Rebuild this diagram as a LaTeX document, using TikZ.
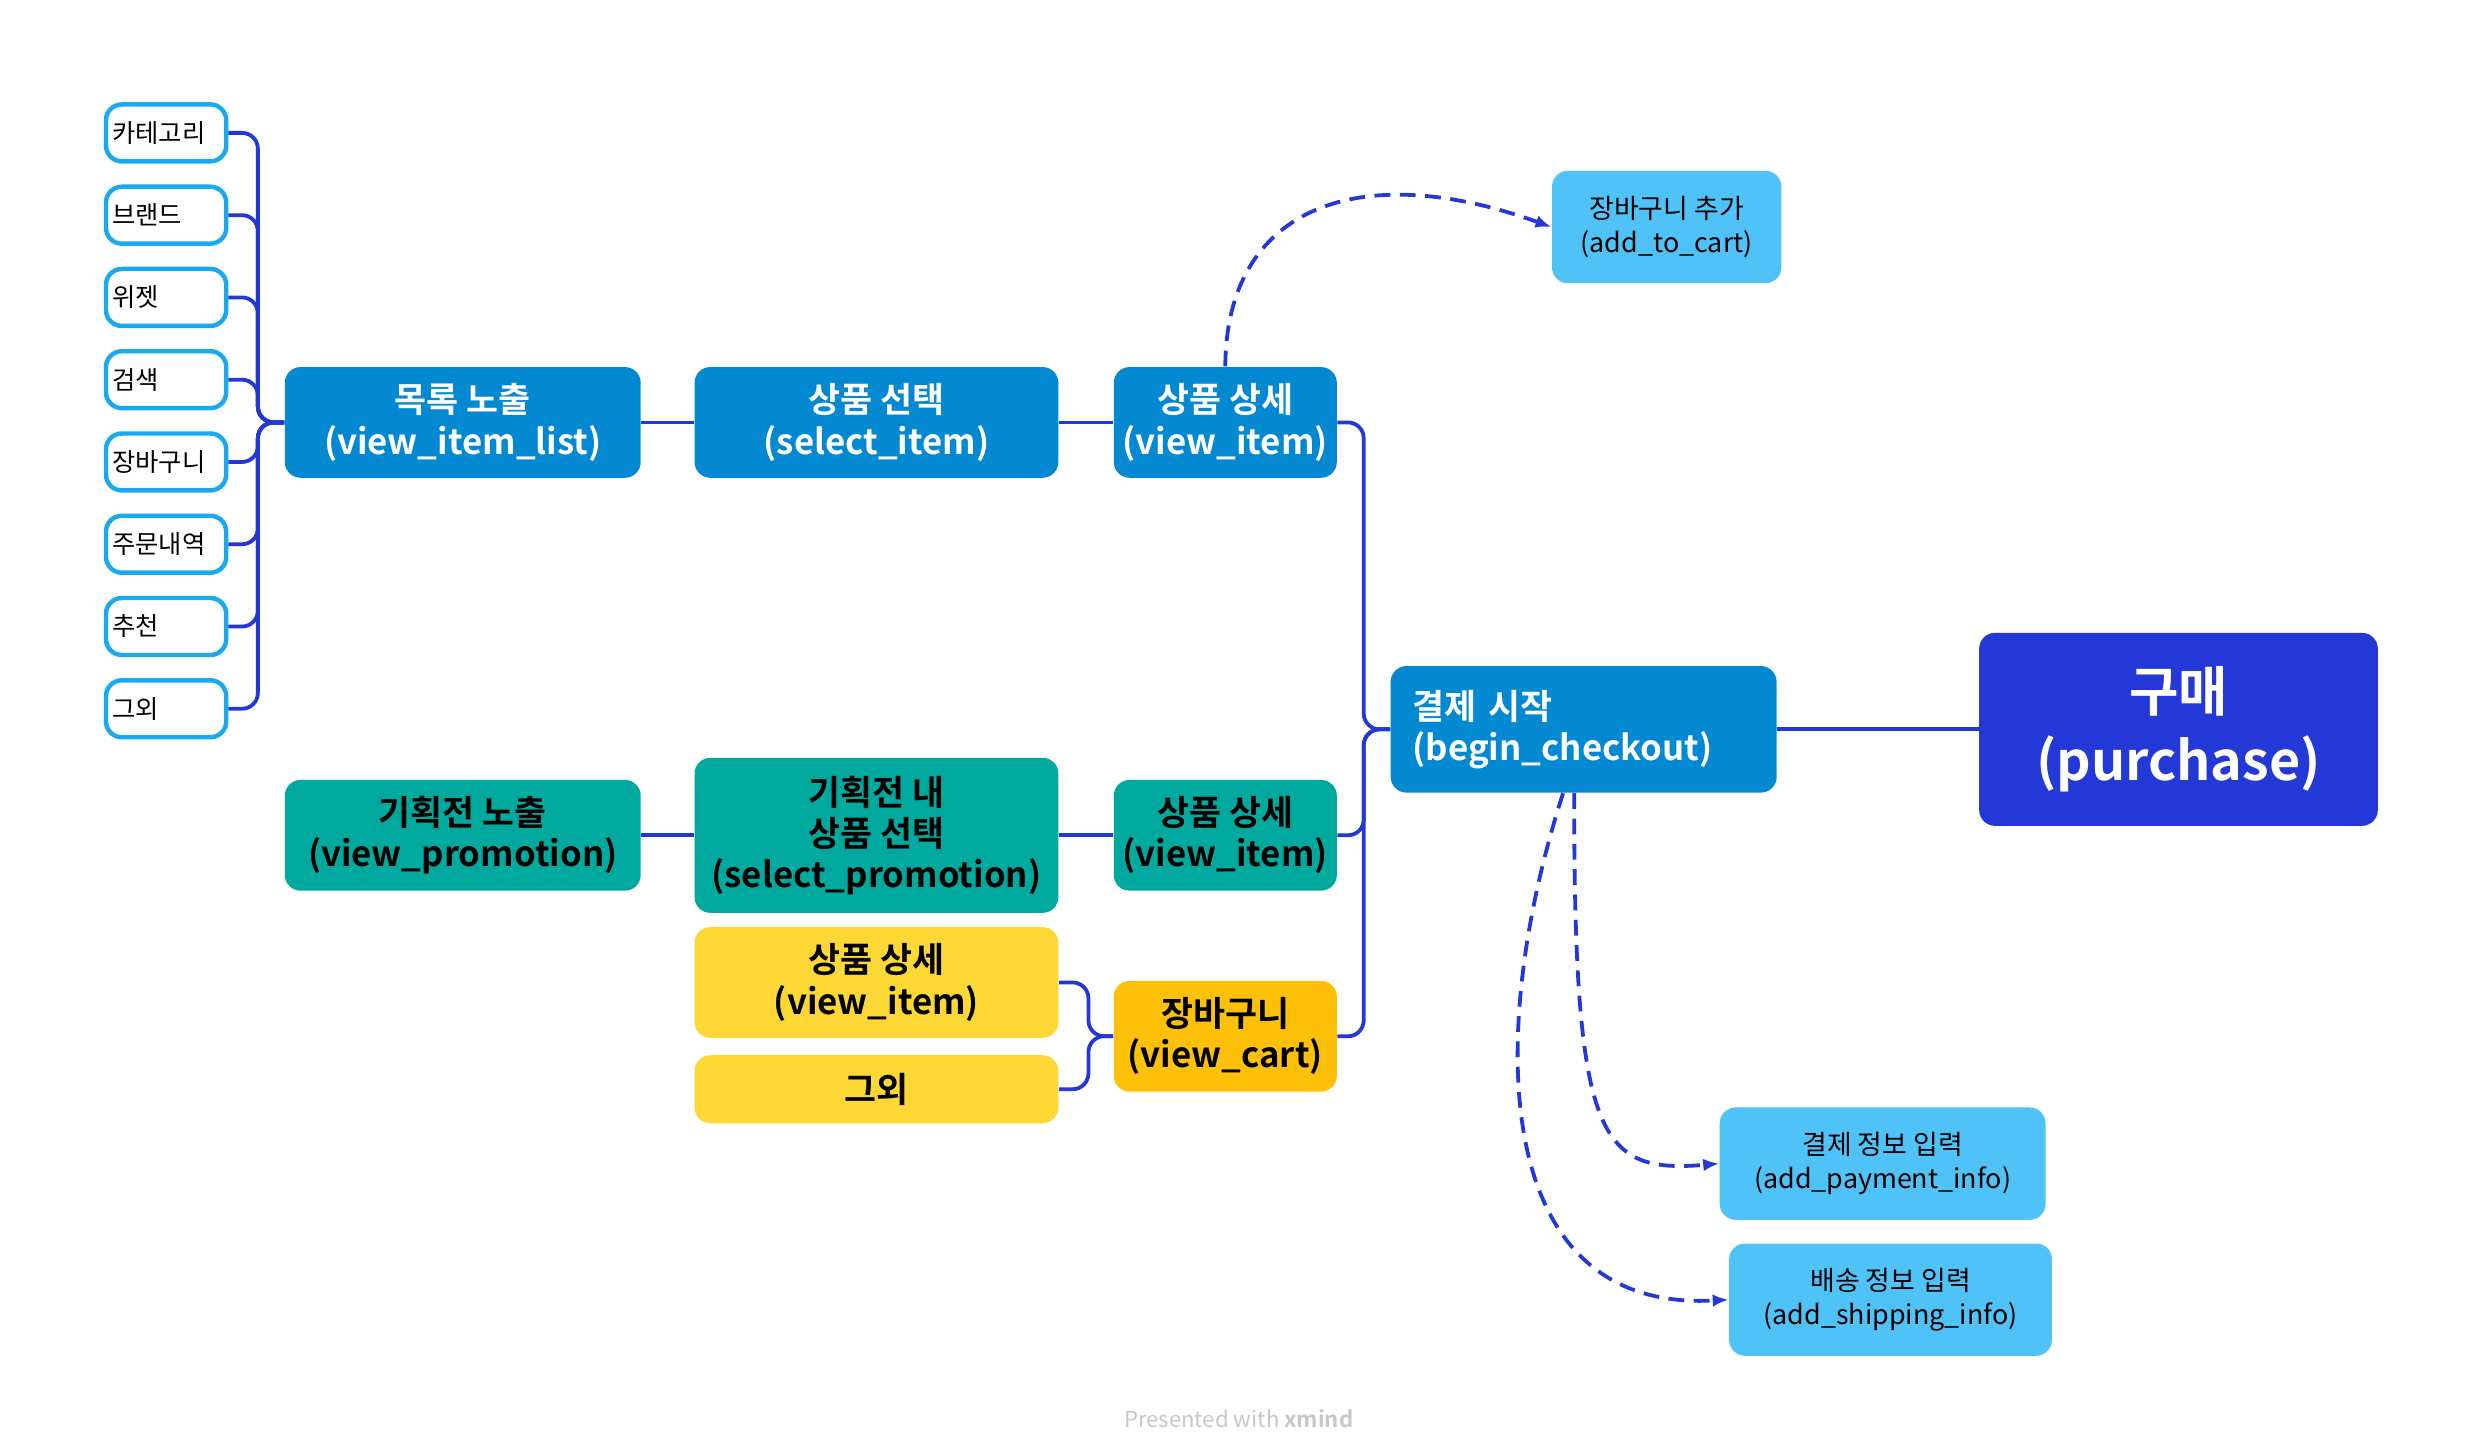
\documentclass[tikz,border=0pt]{standalone}
\usepackage{fontspec}
\setmainfont{Noto Sans CJK KR}[BoldFont={Noto Sans CJK KR Bold}]
\usetikzlibrary{arrows.meta}
\definecolor{cb}{HTML}{0388D2}
\definecolor{lb}{HTML}{4FC3F7}
\definecolor{cy}{HTML}{18A9F0}
\definecolor{tl}{HTML}{00A99D}
\definecolor{yl}{HTML}{FDD835}
\definecolor{am}{HTML}{FFC107}
\definecolor{pb}{HTML}{2338D6}
\definecolor{ln}{HTML}{2338D6}
\begin{document}
\begin{tikzpicture}[x=0.5pt,y=-0.5pt,
 box/.style={rounded corners=5pt,inner sep=0pt,align=center,font=\bfseries\fontsize{11}{13}\selectfont},
 sm/.style={box,draw=cy,line width=1.4pt,fill=white,font=\fontsize{8}{10}\selectfont,minimum width=38pt,minimum height=18pt,text width=34pt,align=left},
 conn/.style={draw=ln,line width=1.2pt,rounded corners=5pt},
 dsh/.style={draw=ln,line width=1.2pt,dashed,dash pattern=on 5pt off 3pt,-{Latex[length=5pt,width=4pt]}}]
\useasboundingbox (0,0) rectangle (1560,916);
\def\bx#1#2#3#4#5{\path (#2,#3) rectangle (#4,#5) ;}
% left small boxes
\foreach \n/\t/\y in {1/카테고리/84,2/브랜드/136,3/위젯/188,4/검색/240,5/장바구니/292,6/주문내역/344,7/추천/396,8/그외/448}
  \node[sm] (c\n) at (105,\y) {\t};
\coordinate (j1) at (163,267);
\node[box,fill=cb,text=white,minimum width=112.5pt,minimum height=35pt] (l1) at (292.5,267) {목록 노출\\(view\_item\_list)};
\foreach \n in {1,...,8} \draw[conn] (c\n.east) -| (j1) -- (l1.west);
\node[box,fill=cb,text=white,minimum width=115pt,minimum height=35pt] (s1) at (554,267) {상품 선택\\(select\_item)};
\node[box,fill=cb,text=white,minimum width=70.5pt,minimum height=35pt] (d1) at (774.5,267) {상품 상세\\(view\_item)};
\node[box,fill=lb,text=black,font=\fontsize{8.5}{11}\selectfont,minimum width=72.5pt,minimum height=35.5pt] (atc) at (1053.5,143.5) {장바구니 추가\\(add\_to\_cart)};
\draw[conn] (l1) -- (s1); \draw[conn] (s1) -- (d1);
\draw[dsh] (d1.north) .. controls (775,130) and (860,100) .. (atc.west);
% teal row
\node[box,fill=tl,text=black,minimum width=112.5pt,minimum height=35pt] (l2) at (292.5,528) {기획전 노출\\(view\_promotion)};
\node[box,fill=tl,text=black,minimum width=115pt,minimum height=49pt] (s2) at (554,528) {기획전 내\\상품 선택\\(select\_promotion)};
\node[box,fill=tl,text=black,minimum width=70.5pt,minimum height=35pt] (d2) at (774.5,528) {상품 상세\\(view\_item)};
\draw[conn] (l2) -- (s2); \draw[conn] (s2) -- (d2);
% yellow
\node[box,fill=yl,text=black,minimum width=115pt,minimum height=35pt] (y1) at (554,621) {상품 상세\\(view\_item)};
\node[box,fill=yl,text=black,minimum width=115pt,minimum height=21.5pt] (y2) at (554,688.5) {그외};
\node[box,fill=am,text=black,minimum width=70.5pt,minimum height=35pt] (vc) at (774.5,655) {장바구니\\(view\_cart)};
\coordinate (j3) at (688,655);
\draw[conn] (y1.east) -| (j3) -- (vc.west);
\draw[conn] (y2.east) -| (j3) -- (vc.west);
% checkout
\node[box,fill=cb,text=white,minimum width=122pt,minimum height=40pt,align=left,text width=108pt] (bc) at (1001,461) {결제 시작\\(begin\_checkout)};
\coordinate (j2) at (862,461);
\foreach \s in {d1,d2,vc} \draw[conn] (\s.east) -| (j2) -- (bc.west);
\node[box,fill=pb,text=white,font=\bfseries\fontsize{17}{22}\selectfont,minimum width=126pt,minimum height=61pt] (pu) at (1377,461) {구매\\(purchase)};
\draw[conn] (bc) -- (pu);
\node[box,fill=lb,text=black,font=\fontsize{8.5}{11}\selectfont,minimum width=103pt,minimum height=35.5pt] (pay) at (1190,735.5) {결제 정보 입력\\(add\_payment\_info)};
\node[box,fill=lb,text=black,font=\fontsize{8.5}{11}\selectfont,minimum width=102pt,minimum height=35.5pt] (shp) at (1195,821.5) {배송 정보 입력\\(add\_shipping\_info)};
\draw[dsh] ([xshift=-3pt]bc.south) .. controls (995,720) and (1010,742) .. (pay.west);
\draw[dsh] ([xshift=-6.5pt]bc.south) .. controls (940,650) and (940,830) .. (shp.west);
\node[text=black!22,font=\fontsize{7}{8}\selectfont] (ft) at (783,897) {Presented with \textbf{xmind}};
\end{tikzpicture}
\end{document}
